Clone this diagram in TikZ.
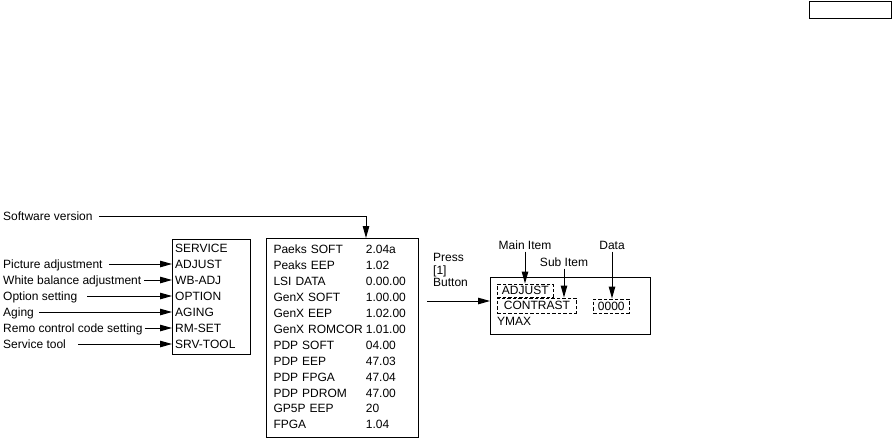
\documentclass[tikz,border=0pt]{standalone}
\usepackage{fontspec}
\setmainfont{Liberation Sans}
\usetikzlibrary{
    arrows.meta,
    positioning
}
\tikzset{
    txt/.style={font=\fontsize{12}{14}\selectfont, text height=8.6pt, text depth=0pt},
    note/.style={txt, anchor=west, inner sep=0pt},
    menuitem/.style={txt, anchor=west, inner xsep=3pt, inner ysep=2pt},
    frame/.style={draw, line width=1pt},
    pointer/.style={-{Triangle[length=12pt, width=6.5pt]}, line width=1pt},
    feed/.style={pointer, shorten <=6pt},
    dashbox/.style={txt, draw, dash pattern=on 3.5pt off 2pt, line width=0.9pt,
        inner xsep=4.5pt, inner ysep=2.2pt}
}

\begin{document}
\begin{tikzpicture}[x=1pt, y=-1pt]
    \useasboundingbox (0,0) rectangle (893,439);
    % blank box in the corner
    \draw[frame] (809,1) rectangle (891,18);

    % service menu
    \draw[frame] (172,239) rectangle (250,354);
    \node[menuitem] (service) at (172,248) {SERVICE};
    \node[menuitem] (adjust) at (172,264) {ADJUST};
    \node[menuitem] (wbadj) at (172,280) {WB-ADJ};
    \node[menuitem] (option) at (172,296) {OPTION};
    \node[menuitem] (aging) at (172,312) {AGING};
    \node[menuitem] (rmset) at (172,328) {RM-SET};
    \node[menuitem] (srvtool) at (172,344) {SRV-TOOL};

    \node[note] (picadj) at (3,264) {Picture adjustment};
    \node[note] (wbnote) at (3,280) {White balance adjustment};
    \node[note] (optnote) at (3,296) {Option setting};
    \node[note] (agenote) at (3,312) {Aging};
    \node[note] (remonote) at (3,328) {Remo control code setting};
    \node[note] (toolnote) at (3,344) {Service tool};
    \draw[feed] (picadj.east) -- (adjust.west);
    \draw[feed, shorten <=3pt] (wbnote.east) -- (wbadj.west);
    \draw[feed, shorten <=10pt] (optnote.east) -- (option.west);
    \draw[feed, shorten <=5pt] (agenote.east) -- (aging.west);
    \draw[feed, shorten <=2pt] (remonote.east) -- (rmset.west);
    \draw[feed, shorten <=12pt] (toolnote.east) -- (srvtool.west);

    % software versions
    \node[frame, txt, anchor=north west, text height=, text depth=,
        inner xsep=7pt, inner ysep=4.3pt, text width=138pt, align=left]
        (versions) at (266,238) {%
        \fontsize{12}{15.9}\selectfont
        \begin{tabular}{@{}l@{\hspace{3pt}}l@{}}
            Paeks SOFT & 2.04a\\
            Peaks EEP & 1.02\\
            LSI DATA & 0.00.00\\
            GenX SOFT & 1.00.00\\
            GenX EEP & 1.02.00\\
            GenX ROMCOR & 1.01.00\\
            PDP SOFT & 04.00\\
            PDP EEP & 47.03\\
            PDP FPGA & 47.04\\
            PDP PDROM & 47.00\\
            GP5P EEP & 20\\
            FPGA & 1.04
        \end{tabular}};
    \node[note] (swnote) at (3,216) {Software version};
    \draw[feed] (swnote.east) -| ([xshift=100pt]versions.north west);

    % press [1]
    \node[txt, anchor=north west, inner sep=0pt, align=left, text height=,
        font=\fontsize{12}{12.6}\selectfont] (press) at (433,253) {Press\\{[1]}\\Button};
    \node[frame, anchor=north west, minimum width=160pt, minimum height=57pt,
        inner sep=0pt] (display) at (490,277) {};
    \coordinate (pressin) at (427,301);
    \draw[pointer] (pressin) -- (pressin -| display.west);

    \node[dashbox, anchor=north west] (mainbox) at (497,283.5) {ADJUST};
    \node[dashbox, anchor=north west, minimum width=79pt, minimum height=15pt] (subbox) at (497,297.5) {CONTRAST};
    \node[dashbox, anchor=north west, minimum height=14pt] (databox) at (593,298.5) {0000};
    \node[menuitem] (ymax) at (494,321) {YMAX};

    \node[txt, inner sep=2pt] (mainnote) at (525,245) {Main Item};
    \node[txt, inner sep=2pt] (subnote) at (564,262) {Sub Item};
    \node[txt, inner sep=2pt] (datanote) at (612,245) {Data};
    \draw[pointer] (mainnote.south) -- (mainnote.south |- mainbox.north);
    \draw[pointer] (subnote.south) -- (subnote.south |- subbox.north);
    \draw[pointer] (datanote.south) -- (datanote.south |- databox.north);
\end{tikzpicture}
\end{document}
